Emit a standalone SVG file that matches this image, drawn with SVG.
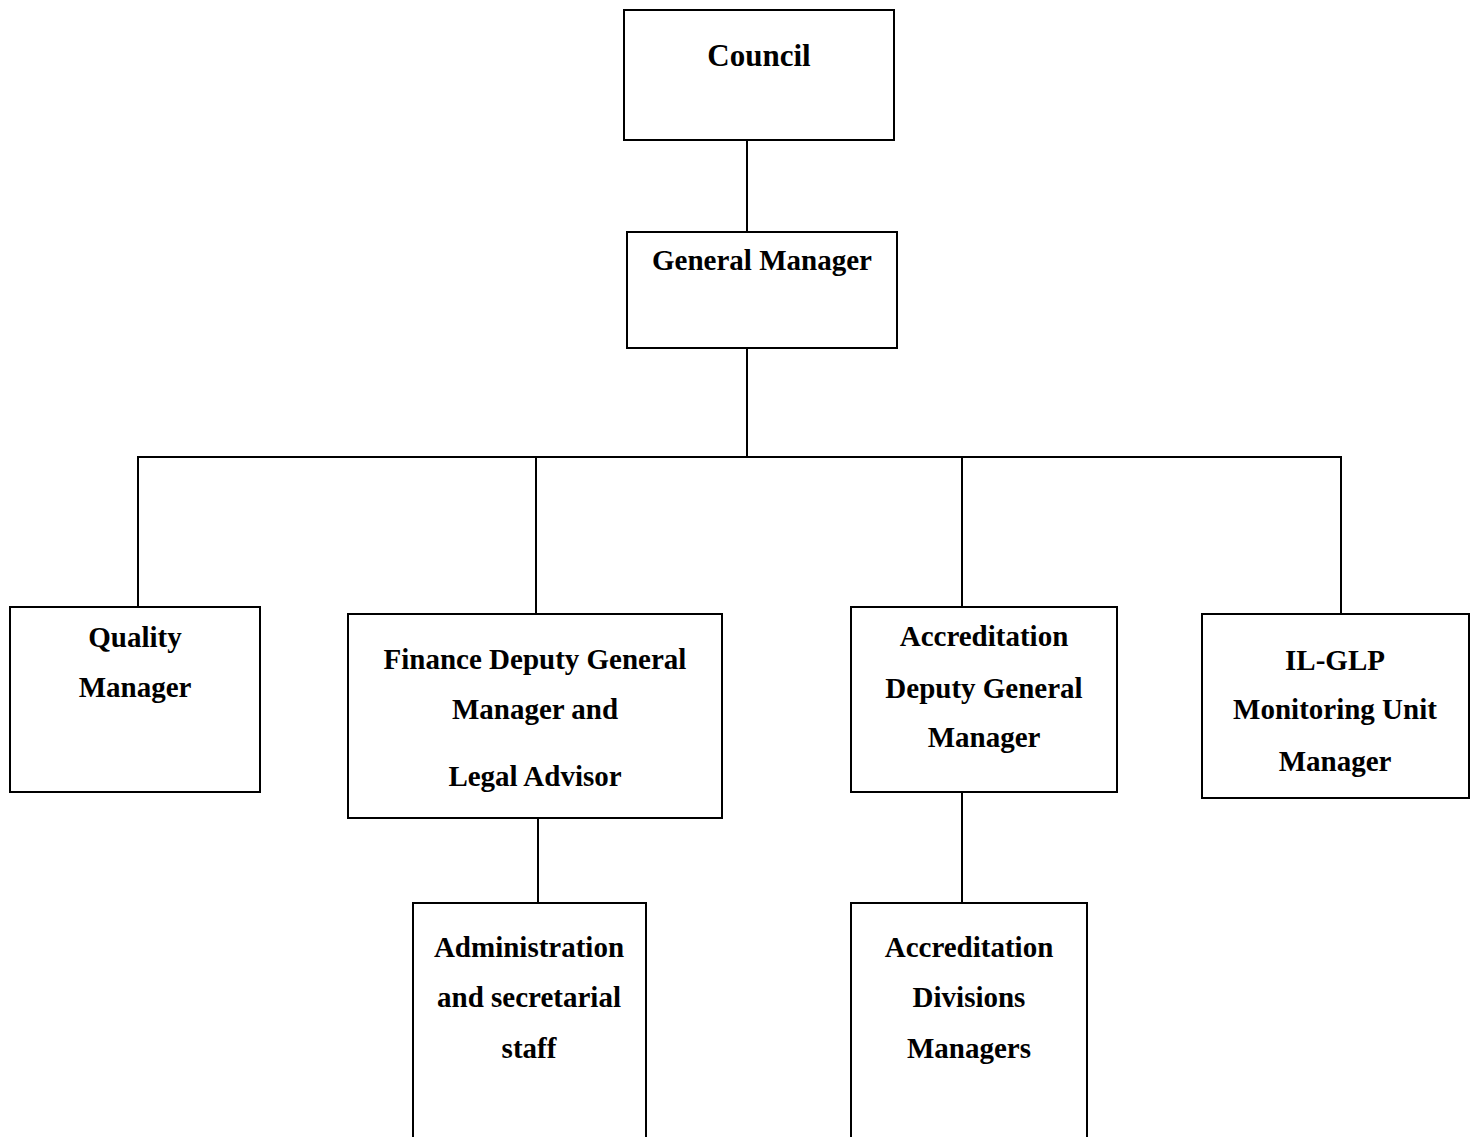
<svg xmlns="http://www.w3.org/2000/svg" width="1475" height="1137" viewBox="0 0 1475 1137">
<style>
.box{fill:#fff;stroke:#000;stroke-width:2}
.ln{fill:none;stroke:#000;stroke-width:2}
text{font-family:"Liberation Serif","Times New Roman",serif;font-weight:bold;font-size:29px;fill:#000;text-anchor:middle}
</style>
<rect width="1475" height="1137" fill="#fff"/>
<g id="connectors">
<path class="ln" d="M747 140V232"/>
<path class="ln" d="M747 348V457"/>
<path class="ln" d="M138 607V457H1341V614"/>
<path class="ln" d="M536 457V614"/>
<path class="ln" d="M962 457V607"/>
<path class="ln" d="M538 818V903"/>
<path class="ln" d="M962 792V903"/>
</g>
<g id="council">
<rect class="box" x="624" y="10" width="270" height="130"/>
<text x="759" y="66" style="font-size:31px">Council</text>
</g>
<g id="general-manager">
<rect class="box" x="627" y="232" width="270" height="116"/>
<text x="762" y="270">General Manager</text>
</g>
<g id="quality-manager">
<rect class="box" x="10" y="607" width="250" height="185"/>
<text x="135" y="647">Quality</text>
<text x="135" y="697">Manager</text>
</g>
<g id="finance-dgm">
<rect class="box" x="348" y="614" width="374" height="204"/>
<text x="535" y="669">Finance Deputy General</text>
<text x="535" y="719">Manager and</text>
<text x="535" y="786">Legal Advisor</text>
</g>
<g id="accreditation-dgm">
<rect class="box" x="851" y="607" width="266" height="185"/>
<text x="984" y="646">Accreditation</text>
<text x="984" y="698">Deputy General</text>
<text x="984" y="747">Manager</text>
</g>
<g id="ilglp-manager">
<rect class="box" x="1202" y="614" width="267" height="184"/>
<text x="1335" y="670">IL-GLP</text>
<text x="1335" y="719">Monitoring Unit</text>
<text x="1335" y="771">Manager</text>
</g>
<g id="admin-staff">
<path class="ln" d="M413 1140V903H646V1140"/>
<text x="529" y="957">Administration</text>
<text x="529" y="1007">and secretarial</text>
<text x="529" y="1058">staff</text>
</g>
<g id="accreditation-divisions">
<path class="ln" d="M851 1140V903H1087V1140"/>
<text x="969" y="957">Accreditation</text>
<text x="969" y="1007">Divisions</text>
<text x="969" y="1058">Managers</text>
</g>
</svg>
